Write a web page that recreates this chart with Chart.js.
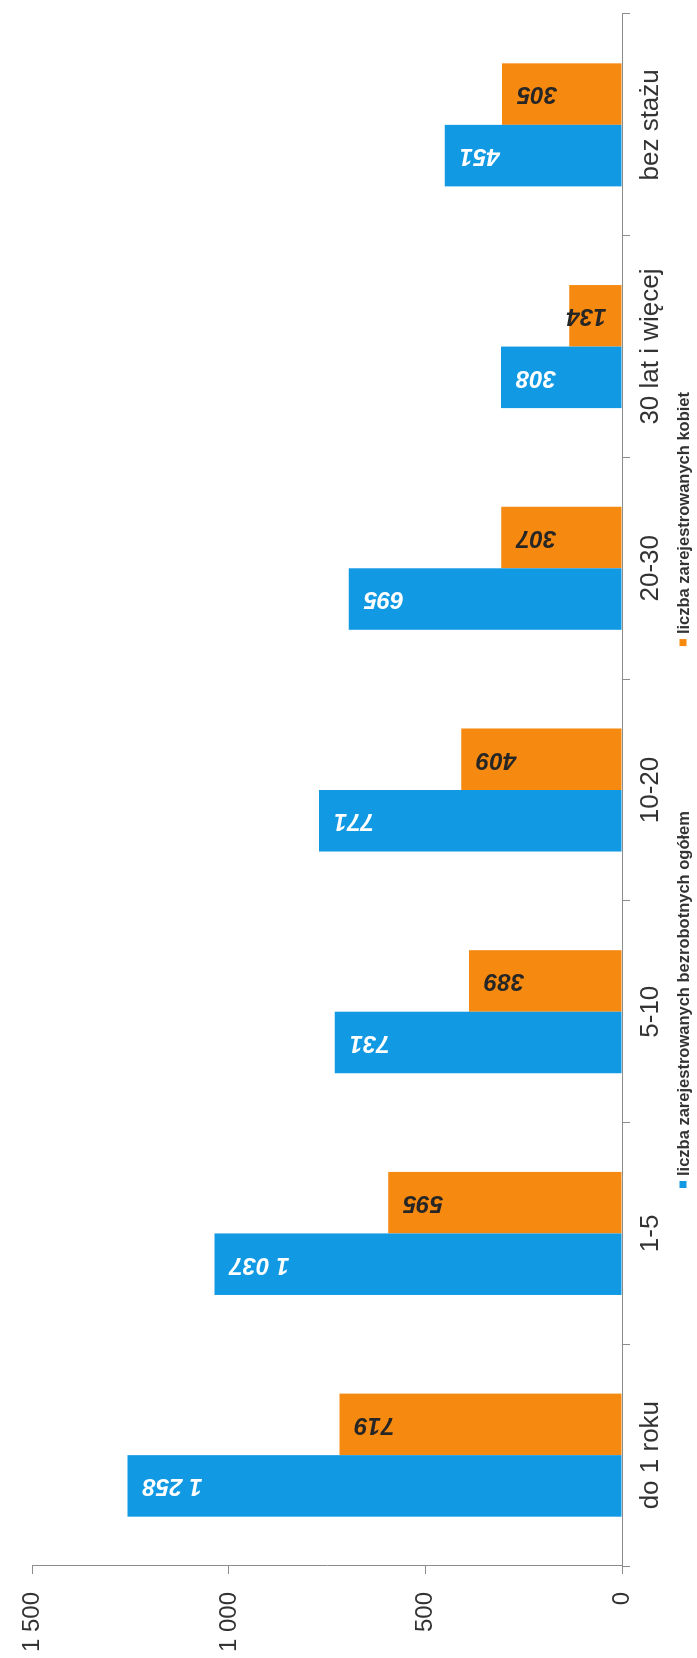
<!DOCTYPE html>
<html lang="pl">
<head>
<meta charset="utf-8">
<title>Bezrobotni wg stażu pracy</title>
<script src="https://cdn.jsdelivr.net/npm/chart.js@4.4.1/dist/chart.umd.min.js"></script>
<style>
  html, body { margin: 0; padding: 0; background: #fff; }
  #wrap { position: relative; width: 697px; height: 1658px; overflow: hidden; }
  /* the chart is drawn upright and turned a quarter to the left, like the scan */
  #chart { position: absolute; left: 0; top: 0; transform-origin: 0 0; transform: translateY(1658px) rotate(-90deg); }
</style>
</head>
<body>
<div id="wrap"><canvas id="chart" width="1658" height="697"></canvas></div>
<script>
// Data
const categories = ['do 1 roku', '1-5', '5-10', '10-20', '20-30', '30 lat i więcej', 'bez stażu'];
const ogolem = [1258, 1037, 731, 771, 695, 308, 451];
const kobiety = [719, 595, 389, 409, 307, 134, 305];
const seriesNames = ['liczba zarejestrowanych bezrobotnych ogółem', 'liczba zarejestrowanych kobiet'];
const valueTicks = [0, 500, 1000, 1500];

const BLUE = '#1199e3';
const ORANGE = '#f6890f';
const AXIS = '#8c8c8c';
const TEXT = '#333333';
const FONT = '"Liberation Sans", Arial, sans-serif';

// "1258" -> "1 258"
const fmt = v => String(v).replace(/\B(?=(\d{3})+(?!\d))/g, ' ');

// Value labels inside the bar ends
const barLabels = {
    id: 'barLabels',
    afterDatasetsDraw(chart) {
        const ctx = chart.ctx;
        const labelColors = ['#ffffff', '#262626'];
        ctx.save();
        ctx.font = 'italic bold 24px ' + FONT;
        ctx.textBaseline = 'middle';
        ctx.textAlign = 'right';
        chart.data.datasets.forEach((ds, i) => {
            const meta = chart.getDatasetMeta(i);
            ctx.fillStyle = labelColors[i];
            meta.data.forEach((bar, j) => {
                const text = fmt(ds.data[j]);
                const w = ctx.measureText(text).width;
                // 15px in from the tip, but keep short bars' labels off the axis
                const start = Math.min(bar.y + 15, bar.base - 15 - w);
                ctx.save();
                ctx.translate(bar.x, start);
                ctx.rotate(-Math.PI / 2);
                ctx.fillText(text, 0, 0);
                ctx.restore();
            });
        });
        ctx.restore();
    }
};

// Legend row under the category labels
const bottomLegend = {
    id: 'bottomLegend',
    afterDraw(chart) {
        const ctx = chart.ctx;
        const area = chart.chartArea;
        const box = 7, boxGap = 5, itemGap = 165;
        ctx.save();
        ctx.font = 'bold 16.5px ' + FONT;
        ctx.textBaseline = 'middle';
        ctx.textAlign = 'left';
        const items = chart.data.datasets.map(ds => ({
            text: ds.label,
            color: ds.backgroundColor,
            w: box + boxGap + ctx.measureText(ds.label).width
        }));
        const total = items.reduce((s, it) => s + it.w, 0) + itemGap * (items.length - 1);
        let x = (area.left + area.right) / 2 - total / 2;
        const y = chart.height - 14;
        items.forEach(it => {
            ctx.fillStyle = it.color;
            ctx.fillRect(x, y - box / 2, box, box);
            ctx.fillStyle = TEXT;
            ctx.fillText(it.text, x + box + boxGap, y + 1);
            x += it.w + itemGap;
        });
        ctx.restore();
    }
};

new Chart(document.getElementById('chart'), {
    type: 'bar',
    data: {
        labels: categories,
        datasets: [
            { label: seriesNames[0], data: ogolem, backgroundColor: BLUE },
            { label: seriesNames[1], data: kobiety, backgroundColor: ORANGE }
        ]
    },
    options: {
        responsive: false,
        animation: false,
        devicePixelRatio: 1,
        categoryPercentage: 0.555,
        barPercentage: 1,
        layout: { padding: { top: 27, right: 14, bottom: 30, left: 0 } },
        plugins: {
            legend: { display: false },
            tooltip: { enabled: false }
        },
        scales: {
            x: {
                grid: { drawOnChartArea: false, drawTicks: true, tickLength: 8, color: AXIS, offset: true },
                border: { display: true, color: AXIS },
                ticks: {
                    color: TEXT,
                    font: { size: 26, family: FONT },
                    padding: 5,
                    autoSkip: false,
                    maxRotation: 0,
                    minRotation: 0
                },
                afterFit(scale) { scale.height = 45; }
            },
            y: {
                min: 0,
                max: 1500,
                afterBuildTicks(scale) { scale.ticks = valueTicks.map(v => ({ value: v })); },
                grid: { drawOnChartArea: false, drawTicks: true, tickLength: 8, color: AXIS },
                border: { display: true, color: AXIS },
                ticks: {
                    color: TEXT,
                    font: { size: 24, family: FONT },
                    padding: 18,
                    callback: v => fmt(v)
                },
                afterFit(scale) { scale.width = 92; }
            }
        }
    },
    plugins: [barLabels, bottomLegend]
});
</script>
</body>
</html>
